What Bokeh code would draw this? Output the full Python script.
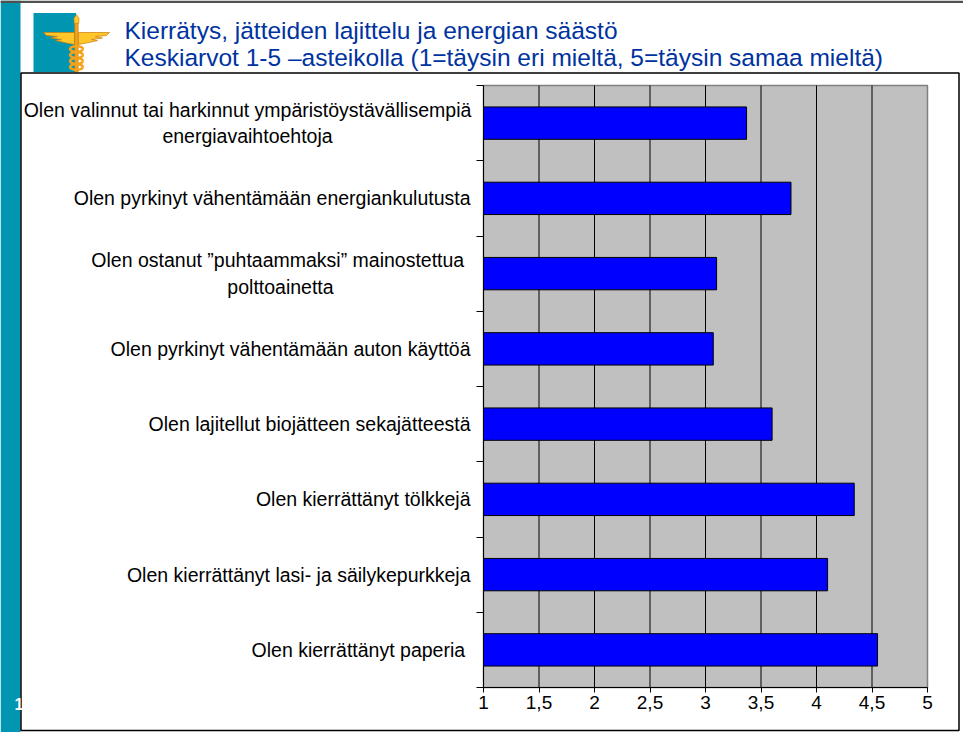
import numpy as np
from bokeh.plotting import figure
from bokeh.models import Range1d, FixedTicker
from bokeh.core.properties import value
from bokeh.embed import file_html
from bokeh.resources import INLINE

# ---------------- data ----------------
categories = [
    "Olen valinnut tai harkinnut ympäristöystävällisempiä\nenergiavaihtoehtoja",
    "Olen pyrkinyt vähentämään energiankulutusta",
    "Olen ostanut  \u201dpuhtaammaksi\u201d mainostettua\npolttoainetta",
    "Olen pyrkinyt vähentämään auton käyttöä",
    "Olen lajitellut biojätteen sekajätteestä",
    "Olen kierrättänyt tölkkejä",
    "Olen kierrättänyt lasi- ja säilykepurkkeja",
    "Olen kierrättänyt paperia ",
]
values = [3.37, 3.77, 3.10, 3.07, 3.60, 4.34, 4.10, 4.55]
x_ticks = [1, 1.5, 2, 2.5, 3, 3.5, 4, 4.5, 5]
x_tick_labels = ["1", "1,5", "2", "2,5", "3", "3,5", "4", "4,5", "5"]
title_lines = [
    "Kierrätys, jätteiden lajittelu ja energian säästö",
    "Keskiarvot 1-5 \u2013asteikolla (1=täysin eri mieltä, 5=täysin samaa mieltä)",
]
page_number = "1"

# ---------------- page geometry (pixels) ----------------
W, H = 963, 732
FL, FR, FT, FB = 483, 927, 85, 687   # plot-area edges
n = len(categories)
XMIN, XMAX = x_ticks[0], x_ticks[-1]

def X(px):
    return XMIN + (px - FL) * (XMAX - XMIN) / (FR - FL)

def Y(py):
    return (FB - py) * n / (FB - FT)

FONT = "Liberation Sans"
TEAL = "#0096B1"

p = figure(width=W, height=H, x_range=Range1d(X(0), X(W)), y_range=Range1d(Y(H), Y(0)),
           output_backend="svg", toolbar_location=None,
           min_border=0, min_border_left=0, min_border_right=0,
           min_border_top=0, min_border_bottom=0,
           background_fill_color="white", border_fill_color="white",
           outline_line_color=None)
p.xgrid.visible = False
p.ygrid.visible = False

# ---------------- page decorations ----------------
def rect_px(l, r, t, b, **kw):
    p.quad(left=X(l), right=X(r), top=Y(t), bottom=Y(b), **kw)

def patch_px(pts, **kw):
    p.patch(x=[X(a) for a, b in pts], y=[Y(b) for a, b in pts], **kw)

rect_px(0, 20, 0, H, fill_color=TEAL, line_color=None)
rect_px(0, W, 0, 2.5, fill_color="#505050", line_color=None)

# logo
rect_px(33, 75.5, 12.5, 71.5, fill_color=TEAL, line_color=None)
GOLD, GOLD2, DARK = "#FFC629", "#F5A21B", "#C97D0A"
rect_px(74.3, 77.7, 22, 71.5, fill_color=GOLD2, line_color=DARK, line_width=0.6)
patch_px([(76, 14), (78.6, 18), (78.2, 23), (73.8, 23), (73.4, 18)],
         fill_color=GOLD, line_color=DARK, line_width=0.6)
lw_pts = [(74, 32), (43, 32), (46, 35), (57, 36), (50, 37.5), (61, 39), (55, 40), (66, 42.5), (74, 44)]
patch_px(lw_pts, fill_color=GOLD, line_color=DARK, line_width=0.7)
patch_px([(152 - a, b) for a, b in lw_pts], fill_color=GOLD, line_color=DARK, line_width=0.7)
th = np.linspace(0, 2 * np.pi, 25)
for yc in [48.5, 54.5, 60.5, 66.5]:
    p.line(x=[X(76 + 6.5 * np.cos(t)) for t in th], y=[Y(yc + 2.8 * np.sin(t)) for t in th],
           line_color=GOLD2, line_width=2.4)

# white slide box (covers the bottom of the logo)
rect_px(20.5, 958.5, 72.5, 730, fill_color="white", line_color="black", line_width=1.5)

# page number peeking out of the strip
p.text(x=[X(14)], y=[Y(703)], text=[page_number], text_color="white",
       text_font=value(FONT), text_font_size=value("16px"), text_font_style="bold",
       text_align="left", text_baseline="middle")

# title
p.text(x=[X(124)] * len(title_lines), y=[Y(29.5 + 27.5 * i) for i in range(len(title_lines))],
       text=title_lines, text_color="#0033A0", text_font=value(FONT),
       text_font_size=value("24.5px"), text_align="left", text_baseline="alphabetic")

# ---------------- chart ----------------
p.quad(left=XMIN, right=XMAX, bottom=0, top=n, fill_color="#C0C0C0",
       line_color="#808080", line_width=1.5)
grid_x = x_ticks[1:-1]
p.segment(x0=grid_x, x1=grid_x, y0=[0] * len(grid_x), y1=[n] * len(grid_x),
          line_color="black", line_width=1)

ypos = [n - 0.5 - i for i in range(n)]
p.hbar(y=ypos, left=XMIN, right=values, height=0.43,
       fill_color="#0000FF", line_color="black", line_width=1)

# axes anchored at the plot-area edges
p.xaxis.fixed_location = 0
p.xaxis.bounds = (XMIN, XMAX)
p.xaxis.ticker = FixedTicker(ticks=x_ticks)
overrides = {}
for t, lab in zip(x_ticks, x_tick_labels):
    overrides[float(t)] = lab
    overrides[str(t)] = lab
p.xaxis.major_label_overrides = overrides
p.xaxis.major_tick_out = 5
p.xaxis.major_tick_in = 0
p.xaxis.minor_tick_line_color = None
p.xaxis.axis_line_color = "black"
p.xaxis.major_tick_line_color = "black"
p.xaxis.major_label_text_font = FONT
p.xaxis.major_label_text_font_size = "19px"
p.xaxis.major_label_text_color = "black"
p.xaxis.major_label_standoff = 3

p.yaxis.fixed_location = XMIN
p.yaxis.bounds = (0, n)
p.yaxis.ticker = FixedTicker(ticks=list(range(n + 1)))
p.yaxis.major_tick_out = 7
p.yaxis.major_tick_in = 0
p.yaxis.minor_tick_line_color = None
p.yaxis.axis_line_color = "black"
p.yaxis.major_tick_line_color = "black"
p.yaxis.major_label_text_color = None

# category labels (multi-line ones are centred, the rest right-aligned)
label_centers = {0: 247, 2: 280}
single = [i for i, c in enumerate(categories) if "\n" not in c]
multi = [i for i, c in enumerate(categories) if "\n" in c]
common = dict(text_font=value(FONT), text_font_size=value("19.5px"), text_color="black",
              text_baseline="middle", text_line_height=1.2)
p.text(x=[X(470)] * len(single), y=[ypos[i] for i in single],
       text=[categories[i] for i in single], text_align="right", **common)
p.text(x=[X(label_centers[i]) for i in multi], y=[ypos[i] for i in multi],
       text=[categories[i] for i in multi], text_align="center", **common)

open("out.html", "w").write(file_html(p, INLINE))
